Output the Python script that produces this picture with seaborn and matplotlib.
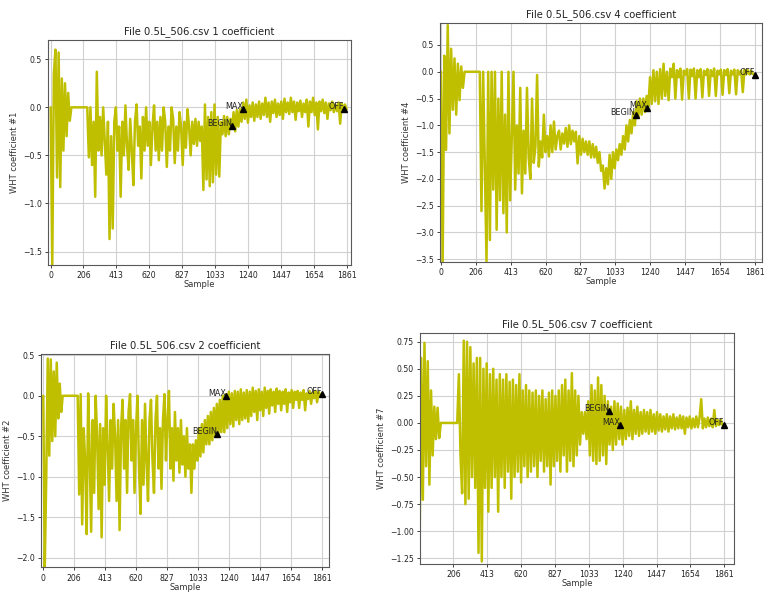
import numpy as np
import pandas as pd
import matplotlib
matplotlib.use('Agg')
import matplotlib.pyplot as plt
import seaborn as sns

# WHT coefficients, one value every 10 samples
STEP = 10
XTICKS = [0, 206, 413, 620, 827, 1033, 1240, 1447, 1654, 1861]

coef1 = [
    0.0, -1.64, 0.35, 0.60, -0.73, 0.57, -0.83, 0.30, -0.45, 0.25,
    -0.30, 0.15, -0.14, 0.0, 0.0, 0.0, 0.0, 0.0, 0.0, 0.0,
    0.0, 0.0, 0.0, 0.0, -0.52, 0.0, -0.60, -0.15, -0.93, 0.37,
    -0.45, -0.10, -0.50, 0.0, -0.35, -0.70, -0.15, -1.37, -0.30, -1.26,
    -0.15, 0.0, -0.45, -0.20, -0.93, -0.15, -0.50, 0.02, -0.40, -0.65,
    -0.12, -0.45, -0.81, -0.15, 0.03, -0.40, -0.20, -0.74, -0.10, -0.45,
    0.0, -0.40, -0.15, -0.60, -0.20, 0.02, -0.45, -0.15, -0.55, -0.10,
    -0.45, 0.0, -0.15, -0.62, -0.20, -0.45, 0.0, -0.12, -0.58, -0.20,
    -0.45, -0.05, -0.20, -0.60, -0.15, -0.42, -0.02, -0.20, -0.50, -0.15,
    -0.38, -0.12, -0.40, -0.15, -0.35, -0.20, -0.86, 0.03, -0.75, -0.10,
    -0.82, -0.05, -0.78, 0.03, -0.70, -0.10, -0.72, -0.15, -0.28, -0.09,
    -0.30, -0.10, -0.28, -0.12, -0.22, -0.05, -0.25, -0.03, -0.20, -0.02,
    -0.15, 0.05, -0.12, 0.08, -0.16, 0.02, -0.10, 0.05, -0.14, 0.03,
    -0.10, 0.06, -0.12, 0.04, -0.08, 0.10, -0.10, 0.05, -0.15, 0.06,
    -0.06, 0.08, -0.10, 0.04, -0.08, 0.06, -0.12, 0.09, -0.05, 0.05,
    -0.07, 0.10, -0.05, 0.06, -0.13, 0.05, -0.04, 0.07, -0.10, 0.04,
    -0.05, 0.08, -0.20, 0.06, -0.05, 0.10, -0.08, 0.05, -0.23, 0.06,
    -0.04, 0.08, -0.06, 0.05, -0.12, 0.04, -0.03, 0.06, -0.05, 0.03,
    -0.04, 0.05, -0.17, 0.04, -0.03, 0.03, -0.02,
]

coef4 = [
    0.0, -3.54, 0.30, -1.46, 0.87, -1.15, 0.43, -0.71, 0.25, -0.80,
    0.15, -0.53, 0.10, -0.30, 0.0, 0.0, 0.0, 0.0, 0.0, 0.0,
    0.0, 0.0, 0.0, 0.0, -2.60, 0.0, -1.80, -3.54, 0.0, -3.14,
    0.0, -2.20, 0.0, -2.95, -0.50, -2.40, 0.0, -2.64, -0.80, -3.00,
    0.0, -2.40, -1.20, 0.0, -2.20, -1.00, -1.90, -0.30, -2.27, -1.10,
    -1.90, -0.30, -1.60, -2.00, -0.50, -1.70, -1.40, -0.06, -1.77, -1.30,
    -1.60, -0.80, -1.50, -1.20, -1.58, -1.00, -1.50, -0.93, -1.45, -1.20,
    -1.10, -1.45, -1.15, -1.34, -1.05, -1.40, -1.00, -1.35, -1.10, -1.30,
    -1.12, -1.71, -1.20, -1.55, -1.25, -1.50, -1.30, -1.55, -1.30, -1.60,
    -1.35, -1.60, -1.40, -1.70, -1.50, -1.85, -1.75, -2.18, -1.80, -2.10,
    -1.55, -2.00, -1.50, -1.80, -1.45, -1.65, -1.35, -1.55, -1.20, -1.45,
    -1.00, -1.30, -0.90, -1.15, -0.75, -1.00, -0.55, -0.85, -0.50, -0.80,
    -0.50, -0.75, -0.45, -0.65, -0.10, -0.60, 0.03, -0.55, 0.0, -0.60,
    0.05, -0.50, 0.15, -0.45, 0.0, -0.53, 0.06, -0.10, 0.15, -0.50,
    0.03, -0.10, 0.06, -0.52, 0.02, -0.05, 0.05, -0.50, 0.04, -0.08,
    0.06, -0.50, 0.03, -0.10, 0.05, -0.48, 0.02, -0.06, 0.05, -0.45,
    0.03, -0.08, 0.06, -0.45, 0.02, -0.05, 0.04, -0.43, 0.03, -0.06,
    0.05, -0.40, 0.02, -0.05, 0.04, -0.42, 0.03, -0.05, 0.02, -0.38,
    0.04, -0.05, 0.03, -0.05, 0.02, -0.04, -0.06,
]

coef2 = [
    0.0, -2.12, -1.00, 0.46, -0.74, 0.45, -0.56, 0.30, -0.50, 0.41,
    -0.28, 0.15, -0.20, 0.0, 0.0, 0.0, 0.0, 0.0, 0.0, 0.0,
    0.0, 0.0, 0.0, 0.0, -1.22, 0.02, -1.59, -0.40, -0.80, -1.71,
    0.03, -0.70, -1.68, -0.30, -1.20, 0.0, -0.50, -1.40, -0.35, -1.75,
    -0.40, -1.10, 0.0, -0.60, -1.30, -0.30, -0.90, -0.10, -0.50, -1.30,
    -0.30, -1.66, -0.40, -0.05, -0.90, -0.30, -1.20, -0.20, 0.02, -0.80,
    -0.30, -1.20, -0.40, 0.0, -0.90, -1.46, -0.30, -1.10, -0.10, -0.80,
    -1.30, -0.30, -0.05, -0.80, -1.20, -0.30, 0.0, -0.90, -0.40, -1.15,
    -0.30, 0.02, -0.80, -0.30, 0.06, -0.90, -0.40, -1.05, -0.20, -0.80,
    -0.40, -0.95, -0.30, -0.85, -0.50, -1.00, -0.40, -0.90, -0.60, -1.20,
    -0.60, -0.90, -0.55, -0.80, -0.40, -0.75, -0.35, -0.70, -0.30, -0.60,
    -0.25, -0.60, -0.20, -0.55, -0.15, -0.50, -0.10, -0.50, -0.05, -0.45,
    0.0, -0.45, 0.02, -0.40, 0.05, -0.35, 0.03, -0.38, 0.06, -0.30,
    0.05, -0.35, 0.08, -0.30, 0.04, -0.28, 0.07, -0.32, 0.05, -0.25,
    0.10, -0.20, 0.06, -0.30, 0.08, -0.18, 0.05, -0.25, 0.10, -0.15,
    0.06, -0.22, 0.08, -0.12, 0.05, -0.20, 0.09, -0.10, 0.06, -0.18,
    0.05, -0.10, 0.08, -0.20, 0.04, -0.08, 0.07, -0.15, 0.05, -0.05,
    0.06, -0.15, 0.04, -0.05, 0.07, -0.18, 0.03, -0.04, 0.06, -0.10,
    0.04, -0.03, 0.06, -0.08, 0.05, 0.0, 0.025,
]

coef7 = [
    -1.20, 0.60, -0.71, 0.74, -0.40, 0.57, -0.57, 0.30, -0.30, 0.15,
    -0.15, 0.14, -0.14, 0.0, 0.0, 0.0, 0.0, 0.0, 0.0, 0.0,
    0.0, 0.0, 0.0, 0.0, 0.45, -0.30, -0.65, 0.76, -0.75, 0.75,
    -0.70, 0.70, -0.50, 0.55, -0.60, 0.60, -1.20, 0.60, -1.28, 0.50,
    -0.60, 0.55, -0.82, 0.45, -0.60, 0.50, -0.50, 0.40, -0.82, 0.45,
    -0.50, 0.40, -0.60, 0.45, -0.45, 0.38, -0.70, 0.40, -0.50, 0.35,
    -0.45, 0.45, -0.55, 0.30, -0.40, 0.35, -0.50, 0.30, -0.45, 0.28,
    -0.40, 0.30, -0.50, 0.25, -0.35, 0.30, -0.45, 0.22, -0.40, 0.28,
    -0.57, 0.30, -0.40, 0.25, -0.35, 0.30, -0.45, 0.35, -0.30, 0.40,
    -0.45, 0.30, -0.35, 0.46, -0.40, 0.30, -0.30, 0.25, -0.20, 0.10,
    -0.10, 0.10, -0.15, 0.20, -0.30, 0.35, -0.35, 0.30, -0.38, 0.42,
    -0.35, 0.35, -0.30, 0.25, -0.38, 0.20, -0.20, 0.15, -0.25, 0.20,
    -0.20, 0.18, -0.15, 0.15, -0.20, 0.12, -0.15, 0.14, -0.12, 0.20,
    -0.15, 0.12, -0.10, 0.15, -0.12, 0.10, -0.10, 0.12, -0.08, 0.10,
    -0.10, 0.12, -0.08, 0.08, -0.10, 0.10, -0.07, 0.08, -0.08, 0.06,
    -0.06, 0.08, -0.08, 0.06, -0.05, 0.08, -0.06, 0.05, -0.05, 0.07,
    -0.05, 0.06, -0.10, 0.05, -0.04, 0.06, -0.05, 0.04, -0.04, 0.06,
    -0.04, 0.05, 0.22, -0.05, 0.04, -0.04, 0.05, -0.03, 0.04, -0.04,
    0.12, -0.03, 0.03, -0.02, 0.03, -0.02, -0.02,
]

# event markers (sample, value) per coefficient
events1 = {'BEGIN': (1142, -0.197), 'MAX': (1209, -0.017), 'OFF': (1844, -0.017)}
events4 = {'BEGIN': (1154, -0.81), 'MAX': (1221, -0.67), 'OFF': (1861, -0.056)}
events2 = {'BEGIN': (1159, -0.478), 'MAX': (1223, 0.0), 'OFF': (1861, 0.025)}
events7 = {'BEGIN': (1157, 0.108), 'MAX': (1224, -0.02), 'OFF': (1861, -0.02)}

sns.set_style('ticks', {'axes.grid': True, 'grid.color': '.82',
                        'axes.edgecolor': '.3', 'axes.linewidth': 0.8})
plt.rcParams['font.family'] = ['DejaVu Sans']

fig = plt.figure(figsize=(7.64, 5.93), dpi=100)

panels = [
    # coef number, values, events, axes rect, xlim, ylim, x ticks
    (1, coef1, events1, [0.0628, 0.5531, 0.3966, 0.3794], (-17, 1888), (-1.64, 0.70), XTICKS),
    (4, coef4, events4, [0.5759, 0.5587, 0.4215, 0.4030], (-6, 1904), (-3.545, 0.916), XTICKS),
    (2, coef2, events2, [0.0537, 0.0433, 0.3774, 0.3597], (-15, 1912), (-2.12, 0.516), XTICKS),
    (7, coef7, events7, [0.5497, 0.0489, 0.4110, 0.3900], (2.5, 1920), (-1.303, 0.833), XTICKS[1:]),
]

for num, vals, events, rect, xlim, ylim, xticks in panels:
    ax = fig.add_axes(rect)
    df = pd.DataFrame({'Sample': np.arange(len(vals)) * STEP, 'value': vals})
    sns.lineplot(data=df, x='Sample', y='value', ax=ax, color='y',
                 linewidth=1.8, estimator=None, sort=False)
    for label, (sx, sy) in events.items():
        ax.plot(sx, sy, marker='^', color='black', markersize=4.5, linestyle='none')
        ax.text(sx, sy, label, ha='right', va='baseline', fontsize=5.8, color='#222222')
    ax.set_xlim(*xlim)
    ax.set_ylim(*ylim)
    ax.set_xticks(xticks)
    ax.tick_params(labelsize=5.6, length=2.5, width=0.6, pad=2, colors='#222222')
    ax.grid(True, color='.82', linewidth=0.8)
    ax.set_xlabel('Sample', fontsize=6.0, color='#333333', labelpad=0)
    ax.set_ylabel(f'WHT coefficient #{num}', fontsize=6.0, color='#333333', labelpad=3)
    ax.set_title(f'File 0.5L_506.csv {num} coefficient', fontsize=7.2, color='#222222', pad=4)
    for sp in ax.spines.values():
        sp.set_visible(True)
        sp.set_color('.35')

fig.savefig('out.png', dpi=100)
